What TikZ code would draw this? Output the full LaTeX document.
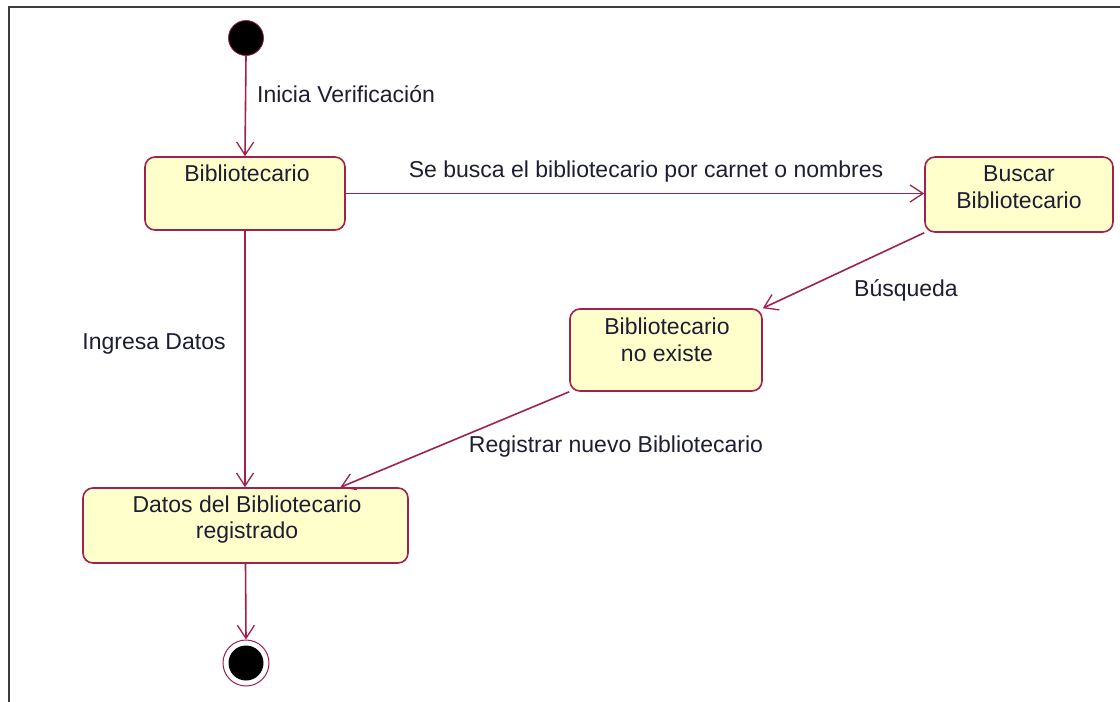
\documentclass[tikz,border=0pt]{standalone}
\usepackage{fontspec}
\setmainfont{Liberation Sans}
\usetikzlibrary{arrows.meta,calc}
\definecolor{umlline}{RGB}{160,32,80}
\definecolor{umlfill}{RGB}{255,255,204}
\definecolor{umltext}{RGB}{30,30,50}
\definecolor{frame}{RGB}{60,60,60}
\tikzset{
  statebox/.style={draw=umlline, fill=umlfill, line width=1.6pt, rounded corners=10pt,
    inner sep=0pt, rectangle},
  txt/.style={text=umltext, font=\fontsize{23}{26}\selectfont, inner sep=0pt, anchor=base},
  lbl/.style={txt},
  trans/.style={draw=umlline, line width=1.6pt, -{Straight Barb[length=13pt,width=17pt,line width=1.3pt]}},
}
\begin{document}
\begin{tikzpicture}[x=1pt,y=-1pt]
\useasboundingbox (0,0) rectangle (1120,702);
\fill[white] (0,0) rectangle (1120,702);
\draw[frame, line width=2.2pt] (9,702) -- (9,7) -- (1120,7);

% states
\node[statebox, minimum width=200pt, minimum height=73pt] (bib) at (245,193.5) {};
\node[txt] (bibT) at (247,181) {Bibliotecario};

\node[statebox, minimum width=188pt, minimum height=75pt] (busc) at (1019,194.5) {};
\node[txt] (buscT1) at (1019,181) {Buscar};
\node[txt] (buscT2) at (1019,208) {Bibliotecario};

\node[statebox, minimum width=192pt, minimum height=82pt] (nex) at (666,350) {};
\node[txt] (nexT1) at (667,334) {Bibliotecario};
\node[txt] (nexT2) at (667,361) {no existe};

\node[statebox, minimum width=325pt, minimum height=75pt] (dat) at (245.5,525.5) {};
\node[txt] (datT1) at (247,512) {Datos del Bibliotecario};
\node[txt] (datT2) at (247,538) {registrado};

% initial and final
\node[circle, fill=black, draw=umlline, line width=0.8pt, minimum size=35pt, inner sep=0pt] (init) at (246,38) {};
\node[circle, draw=umlline, line width=1pt, minimum size=46pt, inner sep=0pt, fill=white] (fin) at (246,663) {};
\node[circle, fill=black, minimum size=35pt, inner sep=0pt] (finIn) at (fin.center) {};

% transitions
\draw[trans] (init.south) -- (bib.north);
\draw[trans] (bib.east) -- (bib.east -| busc.west);
\draw[trans] (busc.south west) -- (nex.north east);
\draw[trans] (bib.south) -- (bib.south |- dat.north);
\draw[trans] (nex.south west) -- ([xshift=95pt]dat.north);
\draw[trans] (dat.south) -- (fin.north);

% labels
\node[lbl, anchor=base west] (l1) at (257,102) {Inicia Verificación};
\node[lbl] (l2) at (646,177) {Se busca el bibliotecario por carnet o nombres};
\node[lbl] (l3) at (906,296) {Búsqueda};
\node[lbl] (l4) at (154,349) {Ingresa Datos};
\node[lbl] (l5) at (616,452) {Registrar nuevo Bibliotecario};
\end{tikzpicture}
\end{document}
